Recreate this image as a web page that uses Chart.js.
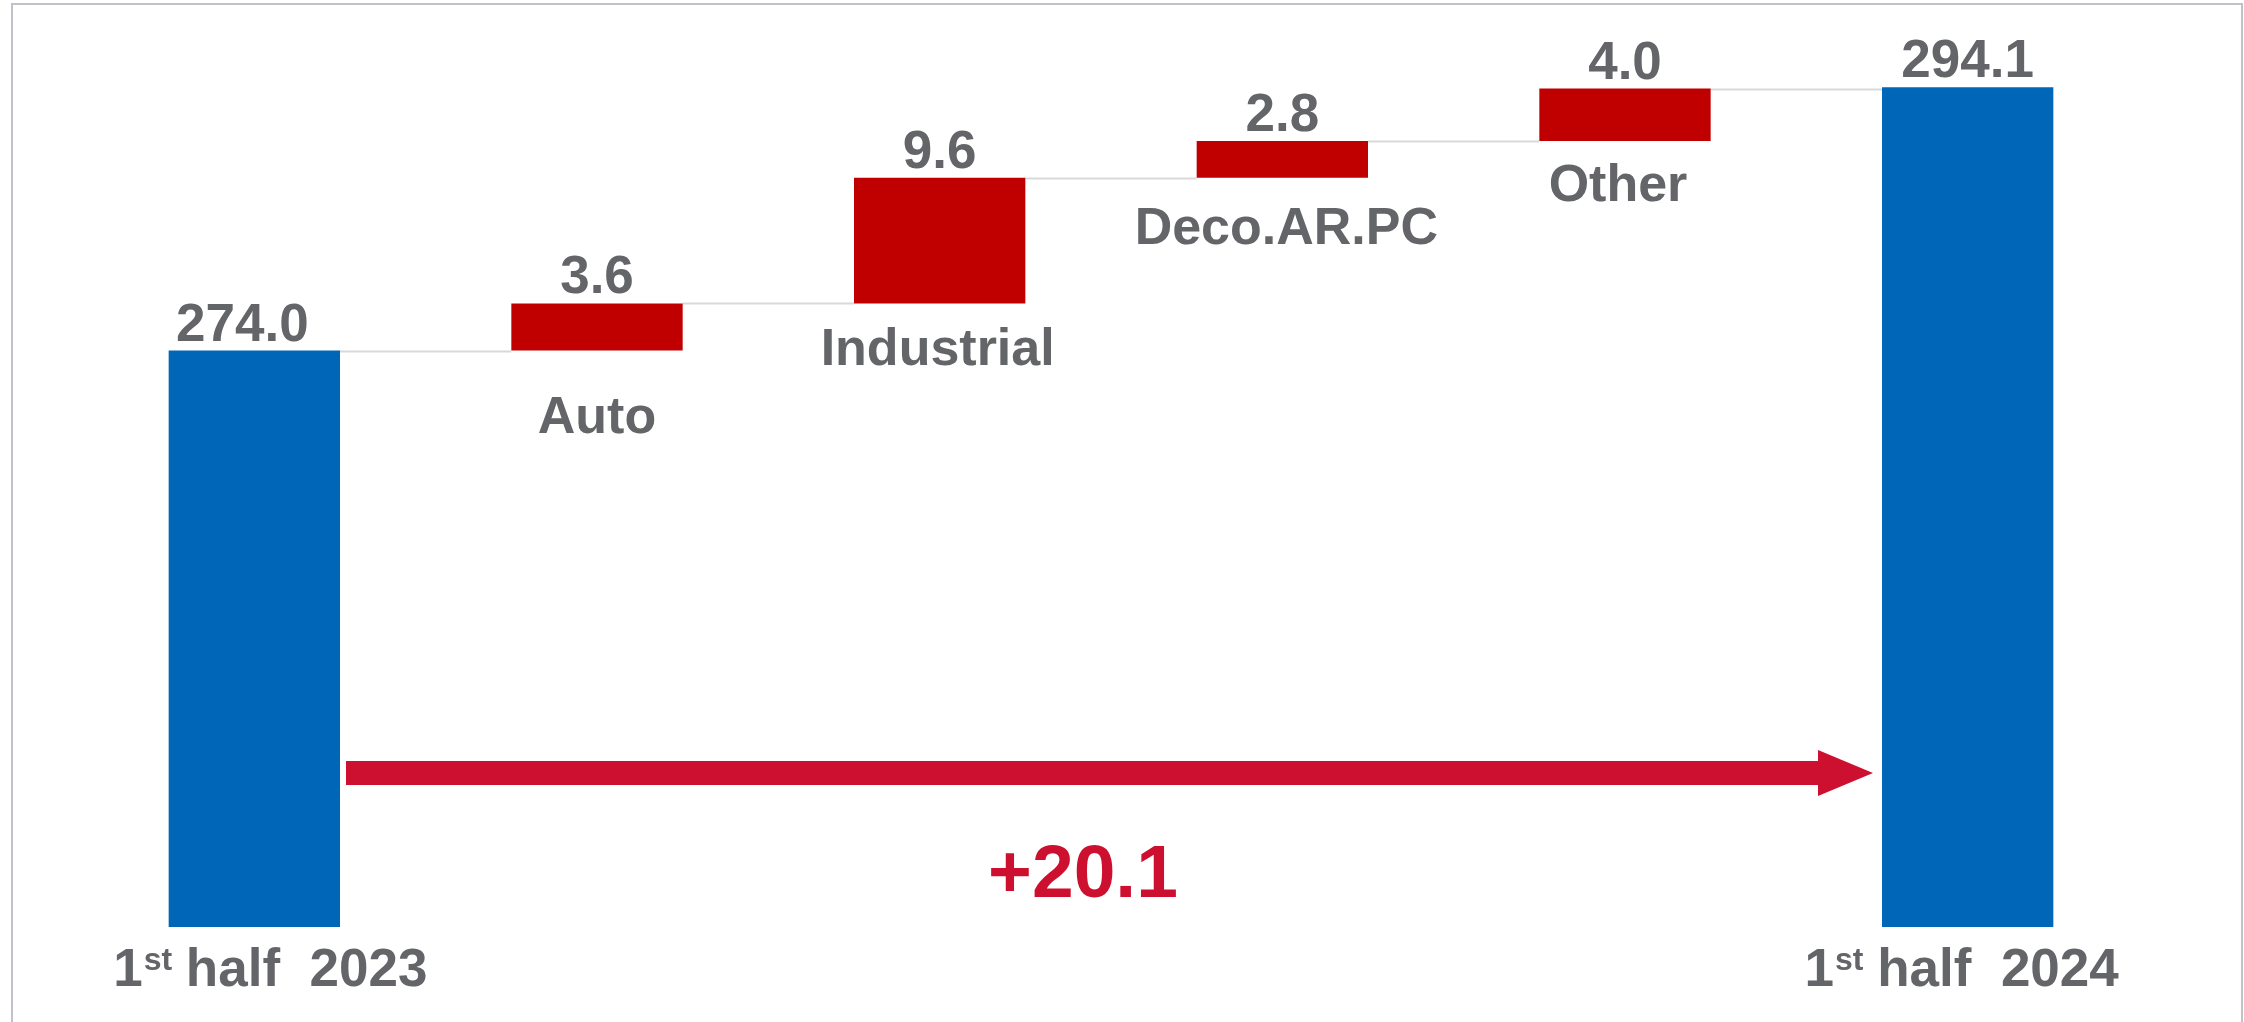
<!DOCTYPE html>
<html>
<head>
<meta charset="utf-8">
<script src="https://cdn.jsdelivr.net/npm/chart.js@4.4.0/dist/chart.umd.min.js"></script>
<style>
  html, body { margin: 0; padding: 0; background: #ffffff; }
  #wrap { position: relative; width: 2244px; height: 1022px; overflow: hidden; }
  #frame { position: absolute; left: 11px; top: 3px; width: 2228px; height: 1030px;
           border-left: 2px solid #BFC3C7; border-top: 2px solid #BFC3C7; border-right: 2px solid #BFC3C7;
           pointer-events: none; }
  canvas { position: absolute; left: 0; top: 0; }
</style>
</head>
<body>
<div id="wrap">
  <canvas id="c" width="2244" height="1022"></canvas>
  <div id="frame"></div>
</div>
<script>
// ---- data ----
const categories = ['1st half 2023', 'Auto', 'Industrial', 'Deco.AR.PC', 'Other', '1st half 2024'];
const startTotal = 274.0;
const changes = [3.6, 9.6, 2.8, 4.0];
const endTotal = 294.1;
const yAxisMin = 230;
const yAxisMax = 300;

// ---- build floating bars from data ----
const floating = [];
const tops = [];
floating.push([yAxisMin, startTotal]);
tops.push(startTotal);
let running = startTotal;
changes.forEach(v => {
  floating.push([running, running + v]);
  running += v;
  tops.push(running);
});
floating.push([yAxisMin, endTotal]);
tops.push(endTotal);
const valueLabels = [startTotal.toFixed(1)].concat(changes.map(v => v.toFixed(1)), [endTotal.toFixed(1)]);
const totalChange = '+' + (endTotal - startTotal).toFixed(1);

const BLUE = '#0066B8';
const RED = '#C00000';
const ARROW_RED = '#CE1030';
const GREY_TEXT = '#646569';
const FONT = '"Liberation Sans", Arial, sans-serif';

const barColors = categories.map((c, i) => (i === 0 || i === categories.length - 1) ? BLUE : RED);

// label layout tweaks (style/layout only)
const valueLabelDx = [-12, 0, 0, 0, 0, 0];
const catLabelGap = [0, 82, 62, 66, 60, 0];
const catLabelDx = [0, 0, -2, 4, -7, 0];

const waterfallPlugin = {
  id: 'waterfall',
  beforeDatasetsDraw(chart) {
    const ctx = chart.ctx;
    const meta = chart.getDatasetMeta(0);
    const y = chart.scales.y;
    ctx.save();
    ctx.strokeStyle = '#D9D9D9';
    ctx.lineWidth = 2;
    for (let i = 0; i < meta.data.length - 1; i++) {
      const a = meta.data[i], b = meta.data[i + 1];
      const py = Math.round(y.getPixelForValue(tops[i])) + 0.5;
      ctx.beginPath();
      ctx.moveTo(a.x + a.width / 2, py);
      ctx.lineTo(b.x - b.width / 2, py);
      ctx.stroke();
    }
    ctx.restore();
  },
  afterDatasetsDraw(chart) {
    const ctx = chart.ctx;
    const meta = chart.getDatasetMeta(0);
    const y = chart.scales.y;
    const n = meta.data.length;
    ctx.save();
    ctx.fillStyle = GREY_TEXT;
    ctx.textAlign = 'center';
    ctx.textBaseline = 'alphabetic';
    // value labels above bars
    ctx.font = 'bold 53px ' + FONT;
    meta.data.forEach((bar, i) => {
      const topPx = y.getPixelForValue(floating[i][1]);
      ctx.fillText(valueLabels[i], bar.x + valueLabelDx[i], topPx - 10);
    });
    // category labels for change bars
    ctx.font = 'bold 52px ' + FONT;
    for (let i = 1; i < n - 1; i++) {
      const bar = meta.data[i];
      const botPx = y.getPixelForValue(floating[i][0]);
      ctx.fillText(categories[i], bar.x + catLabelDx[i], botPx + catLabelGap[i]);
    }
    // total labels with superscript "st"
    [0, n - 1].forEach(i => {
      const bar = meta.data[i];
      const label = categories[i];
      const m = label.match(/^(\d)(st)(.*)$/);
      const big = 'bold 53px ' + FONT, small = 'bold 32px ' + FONT;
      const p1 = m[1], sup = m[2];
      const rest = ' ' + m[3].trim().replace(/ (\d{4})$/, '  $1');
      ctx.font = big; const w1 = ctx.measureText(p1).width;
      ctx.font = small; const w2 = ctx.measureText(sup).width;
      ctx.font = big; const w3 = ctx.measureText(rest).width;
      const total = w1 + w2 + w3;
      const baseY = chart.chartArea.bottom + 59;
      const x0 = bar.x - total / 2 + (i === 0 ? 16 : -6);
      ctx.textAlign = 'left';
      ctx.font = big; ctx.fillText(p1, x0, baseY);
      ctx.font = small; ctx.fillText(sup, x0 + w1 + 1, baseY - 16);
      ctx.font = big; ctx.fillText(rest, x0 + w1 + w2, baseY);
      ctx.textAlign = 'center';
    });
    // arrow
    const first = meta.data[0], last = meta.data[n - 1];
    const ax0 = first.x + first.width / 2 + 6;
    const ax1 = last.x - last.width / 2 - 9;
    const ay = 773;
    ctx.fillStyle = ARROW_RED;
    ctx.beginPath();
    ctx.moveTo(ax0, ay - 12);
    ctx.lineTo(ax1 - 55, ay - 12);
    ctx.lineTo(ax1 - 55, ay - 23);
    ctx.lineTo(ax1, ay);
    ctx.lineTo(ax1 - 55, ay + 23);
    ctx.lineTo(ax1 - 55, ay + 12);
    ctx.lineTo(ax0, ay + 12);
    ctx.closePath();
    ctx.fill();
    // total change label
    ctx.font = 'bold 75px ' + FONT;
    ctx.textAlign = 'center';
    ctx.fillText(totalChange, 1083, 897);
    ctx.restore();
  }
};

new Chart(document.getElementById('c'), {
  type: 'bar',
  data: {
    labels: categories,
    datasets: [{
      data: floating,
      backgroundColor: barColors,
      borderWidth: 0,
      categoryPercentage: 1.0,
      barPercentage: 0.5
    }]
  },
  options: {
    responsive: false,
    animation: false,
    layout: { padding: { left: 83, right: 105, top: 10, bottom: 95 } },
    plugins: { legend: { display: false }, tooltip: { enabled: false } },
    scales: {
      x: { display: false },
      y: { display: false, min: yAxisMin, max: yAxisMax }
    }
  },
  plugins: [waterfallPlugin]
});
</script>
</body>
</html>
